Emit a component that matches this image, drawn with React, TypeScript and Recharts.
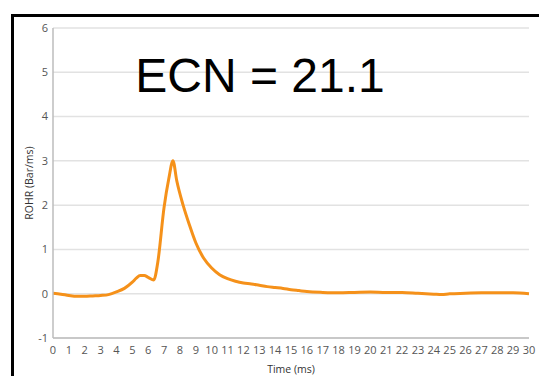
import { LineChart, Line, XAxis, YAxis, CartesianGrid, Label } from "recharts"

// Rate of heat release trace vs time
const timeMs = [
  0, 0.5, 1, 1.5, 2, 2.5, 3, 3.5, 4, 4.5, 5, 5.25, 5.5, 5.75, 6, 6.35, 6.6, 7, 7.3, 7.56, 7.8, 8.2, 8.6, 9,
  9.5, 10, 10.5, 11, 11.5, 12, 12.5, 13, 13.5, 14, 14.5, 15, 15.5, 16, 17, 18, 19, 20, 21, 22, 23, 24, 24.5,
  25, 26, 27, 28, 29, 30,
]
const rohr = [
  0.01, -0.01, -0.04, -0.06, -0.06, -0.05, -0.04, -0.02, 0.04, 0.12, 0.26, 0.35, 0.41, 0.41, 0.37, 0.31,
  0.7, 1.95, 2.6, 3.0, 2.55, 2.0, 1.55, 1.15, 0.8, 0.58, 0.43, 0.34, 0.28, 0.24, 0.22, 0.19, 0.16, 0.14,
  0.12, 0.09, 0.07, 0.05, 0.03, 0.02, 0.03, 0.04, 0.03, 0.03, 0.01, -0.01, -0.02, 0.0, 0.01, 0.02, 0.02,
  0.02, 0.0,
]
const xTicks = Array.from({ length: 31 }, (_, i) => i)
const yTicks = [-1, 0, 1, 2, 3, 4, 5, 6]
const ecnLabel = "ECN = 21.1"

const data = timeMs.map((t, i) => ({ t, rohr: rohr[i] }))

const tickStyle = { fill: "#555", fontSize: 11, fontFamily: "Open Sans" }
const titleStyle = { fill: "#333", fontSize: 10.5, fontFamily: "Open Sans" }

export default function App() {
  return (
    <div style={{ position: "absolute", left: 0, top: 0, width: 539, height: 376, overflow: "hidden", background: "#fff" }}>
      <div
        style={{
          position: "absolute",
          left: 11,
          top: 14,
          width: 600,
          height: 400,
          borderTop: "3px solid #000",
          borderLeft: "3px solid #000",
        }}
      />
      <div style={{ position: "absolute", left: 0, top: 0 }}>
        <LineChart width={539} height={376} data={data} margin={{ top: 28, right: 10, bottom: 0, left: 5 }}>
          <CartesianGrid vertical={false} stroke="#e2e2e2" strokeWidth={1.5} />
          <XAxis
            dataKey="t"
            type="number"
            domain={[0, 30]}
            ticks={xTicks}
            interval={0}
            height={38}
            tickLine={false}
            tickSize={0}
            tickMargin={8}
            axisLine={{ stroke: "#bdbdbd", strokeWidth: 1.5 }}
            tick={tickStyle}
          >
            <Label value="Time (ms)" position="insideBottom" offset={3} style={titleStyle} />
          </XAxis>
          <YAxis
            type="number"
            domain={[-1, 6]}
            ticks={yTicks}
            interval={0}
            width={48}
            tickLine={false}
            tickSize={0}
            tickMargin={5}
            axisLine={{ stroke: "#bdbdbd", strokeWidth: 1.5 }}
            tick={tickStyle}
          >
            <Label value="ROHR (Bar/ms)" angle={-90} position="center" style={{ ...titleStyle, textAnchor: "middle" }} />
          </YAxis>
          <Line
            type="monotone"
            dataKey="rohr"
            stroke="#f5911a"
            strokeWidth={3}
            dot={false}
            isAnimationActive={false}
          />
          <text x={260} y={92} textAnchor="middle" fontSize={48} fontFamily="Liberation Sans, Arial" fill="#000">
            {ecnLabel}
          </text>
        </LineChart>
      </div>
    </div>
  )
}
